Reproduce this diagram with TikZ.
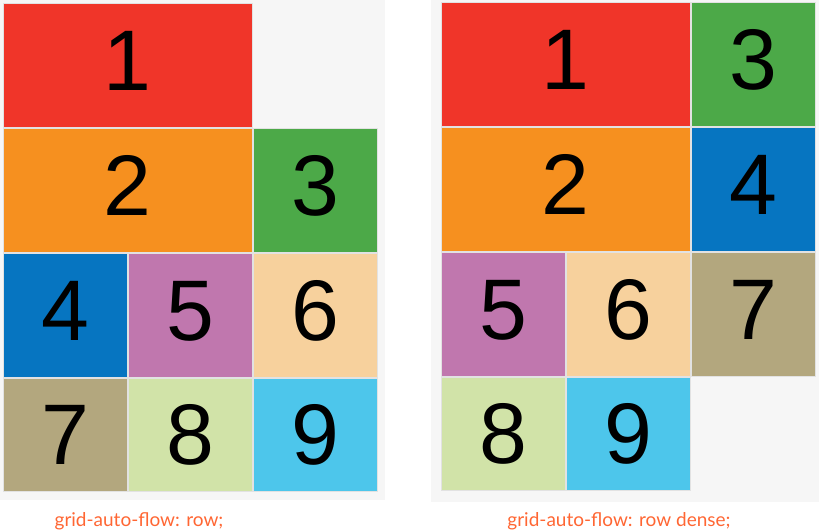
\documentclass[tikz,border=0pt]{standalone}
\usepackage{fontspec}
\setmainfont{Liberation Sans}
\newfontfamily\captionfont{Lato}
\usepackage{tikz}
\usetikzlibrary{positioning}

\definecolor{gridbg}{HTML}{F6F6F6}
\definecolor{cellline}{HTML}{E2E2E2}
\definecolor{itemred}{HTML}{F03529}
\definecolor{itemorange}{HTML}{F6901F}
\definecolor{itemgreen}{HTML}{4CA948}
\definecolor{itemblue}{HTML}{0675C1}
\definecolor{itempurple}{HTML}{C077AE}
\definecolor{itempeach}{HTML}{F7D19D}
\definecolor{itemkhaki}{HTML}{B3A77E}
\definecolor{itemlime}{HTML}{D1E3A8}
\definecolor{itemsky}{HTML}{4DC6EB}
\definecolor{captioncol}{HTML}{FF6633}

\begin{document}
\begin{tikzpicture}[
  x=1pt, y=-1pt,
  item/.style={
    rectangle, draw=cellline, line width=1pt,
    anchor=north west, inner sep=0pt, outer sep=0pt,
    minimum width=124pt, minimum height=124pt,
    font=\fontsize{86}{86}\selectfont,
    text height=62pt, text depth=11pt
  },
  wide/.style={minimum width=249pt},
  short/.style={minimum height=113pt, text depth=2pt},
  caption/.style={font=\captionfont\fontsize{19}{19}\selectfont, text=captioncol, anchor=base, inner sep=0pt},
]
\useasboundingbox (0,0) rectangle (819,531);

% --- Backgrounds ---
\fill[gridbg] (0,0) rectangle (385,500);
\fill[gridbg] (431,0) rectangle (819,502);

% --- Left grid: row ---
\node[item, wide, fill=itemred] (L1) at (3,3) {1};
\node[item, wide, fill=itemorange] (L2) at (3,128) {2};
\node[item, fill=itemgreen] (L3) at (253,128) {3};
\node[item, fill=itemblue] (L4) at (3,253) {4};
\node[item, fill=itempurple] (L5) at (128,253) {5};
\node[item, fill=itempeach] (L6) at (253,253) {6};
\node[item, short, fill=itemkhaki] (L7) at (3,378) {7};
\node[item, short, fill=itemlime] (L8) at (128,378) {8};
\node[item, short, fill=itemsky] (L9) at (253,378) {9};

% --- Right grid: row dense ---
\node[item, wide, fill=itemred] (R1) at (441,2) {1};
\node[item, fill=itemgreen] (R3) at (691,2) {3};
\node[item, wide, fill=itemorange] (R2) at (441,127) {2};
\node[item, fill=itemblue] (R4) at (691,127) {4};
\node[item, fill=itempurple] (R5) at (441,252) {5};
\node[item, fill=itempeach] (R6) at (566,252) {6};
\node[item, fill=itemkhaki] (R7) at (691,252) {7};
\node[item, short, fill=itemlime] (R8) at (441,377) {8};
\node[item, short, fill=itemsky] (R9) at (566,377) {9};

% --- Captions ---
\node[caption] (capL) at (139,526) {grid-auto-flow: row;};
\node[caption] (capR) at (619,526) {grid-auto-flow: row dense;};

\end{tikzpicture}
\end{document}
